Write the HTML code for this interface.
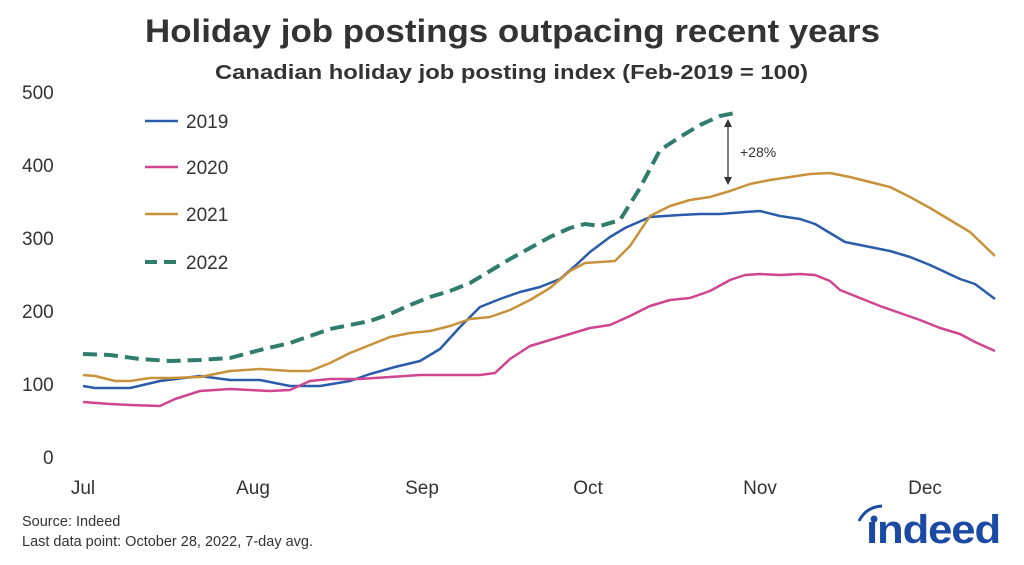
<!DOCTYPE html>
<html><head><meta charset="utf-8"><style>
body{margin:0;background:#fff;width:1024px;height:560px;overflow:hidden;font-family:"Liberation Sans",sans-serif;color:#333}
</style></head><body>
<svg width="1024" height="560" viewBox="0 0 1024 560" xmlns="http://www.w3.org/2000/svg" font-family="Liberation Sans, sans-serif">
<text x="145" y="42" font-size="32" font-weight="bold" fill="#333" textLength="735" lengthAdjust="spacingAndGlyphs">Holiday job postings outpacing recent years</text>
<text x="215" y="79" font-size="20" font-weight="bold" fill="#333" textLength="593" lengthAdjust="spacingAndGlyphs">Canadian holiday job posting index (Feb-2019 = 100)</text>
<g font-size="19" fill="#333">
<text x="22" y="99">500</text><text x="22" y="172">400</text><text x="22" y="245">300</text><text x="22" y="318">200</text><text x="22" y="391">100</text><text x="43" y="464">0</text>
<text x="83" y="494" text-anchor="middle">Jul</text><text x="253" y="494" text-anchor="middle">Aug</text><text x="422" y="494" text-anchor="middle">Sep</text><text x="588" y="494" text-anchor="middle">Oct</text><text x="760" y="494" text-anchor="middle">Nov</text><text x="925" y="494" text-anchor="middle">Dec</text>
</g>
<g fill="none" stroke-width="2.5" stroke-linejoin="round">
<polyline stroke="#2a5caa" points="83,386 95,388 130,388 160,381 200,376 230,380 260,380 290,386 300,386 320,386 350,381 370,374 395,367 420,361 440,349 460,327 480,307 500,299 520,292 540,287 560,279 575,266 590,252 610,237 625,228 650,217 680,215 700,214 720,214 745,212 760,211 780,216 800,219 815,224 830,233 845,242 870,247 890,251 910,257 930,265 945,272 960,279 975,284 995,299"/>
<polyline stroke="#d0458f" points="83,402 110,404 130,405 160,406 175,399 200,391 230,389 270,391 290,390 310,381 330,379 360,379 390,377 420,375 440,375 460,375 480,375 495,373 510,359 530,346 550,340 570,334 590,328 610,325 630,316 650,306 670,300 690,298 710,291 730,280 745,275 760,274 780,275 800,274 815,275 830,281 840,290 860,298 880,306 900,313 920,320 940,328 960,334 975,342 995,351"/>
<polyline stroke="#c8923a" points="83,375 95,376 115,381 130,381 150,378 170,378 200,377 230,371 260,369 290,371 310,371 330,363 350,353 370,345 390,337 410,333 430,331 450,326 470,319 490,317 510,310 530,300 550,288 570,271 585,263 600,262 615,261 630,246 650,216 670,206 690,200 710,197 730,191 750,184 770,180 790,177 810,174 830,173 850,177 870,182 890,187 910,197 930,208 950,220 970,232 995,256"/>
<polyline stroke="#2f7d6a" stroke-width="4" stroke-dasharray="14,7" points="83,354 110,355 140,359 170,361 200,360 230,358 260,350 290,343 310,336 330,329 350,325 370,321 390,314 410,305 430,297 450,291 470,283 490,271 510,259 530,248 550,237 570,228 585,224 600,226 620,220 640,188 660,150 680,137 700,125 720,116 735,113"/>
<line x1="145" y1="121" x2="178" y2="121" stroke="#2a5caa"/>
<line x1="145" y1="167" x2="178" y2="167" stroke="#d0458f"/>
<line x1="145" y1="214" x2="178" y2="214" stroke="#c8923a"/>
<line x1="145" y1="262" x2="180" y2="262" stroke="#2f7d6a" stroke-width="4" stroke-dasharray="12,7"/>
</g>
<g font-size="19" fill="#333">
<text x="186" y="128">2019</text><text x="186" y="174">2020</text><text x="186" y="221">2021</text><text x="186" y="269">2022</text>
</g>
<line x1="728" y1="124" x2="728" y2="180" stroke="#333" stroke-width="1.3"/>
<polygon points="728,119 724,127 732,127" fill="#333"/><polygon points="728,185 724,177 732,177" fill="#333"/>
<text x="740" y="157" font-size="14" fill="#333">+28%</text>
<text x="22" y="526" font-size="14.5" fill="#333">Source: Indeed</text>
<text x="22" y="546" font-size="14.5" fill="#333">Last data point: October 28, 2022, 7-day avg.</text>
<text x="866" y="543" font-size="40" font-weight="bold" fill="#1b4aa5" letter-spacing="-1" textLength="134" lengthAdjust="spacingAndGlyphs">ındeed</text>
<path d="M859,521 Q866,507 882,506" stroke="#1b4aa5" stroke-width="3" fill="none"/>
<circle cx="874" cy="519" r="3.5" fill="#1b4aa5"/>
</svg>
</body></html>
